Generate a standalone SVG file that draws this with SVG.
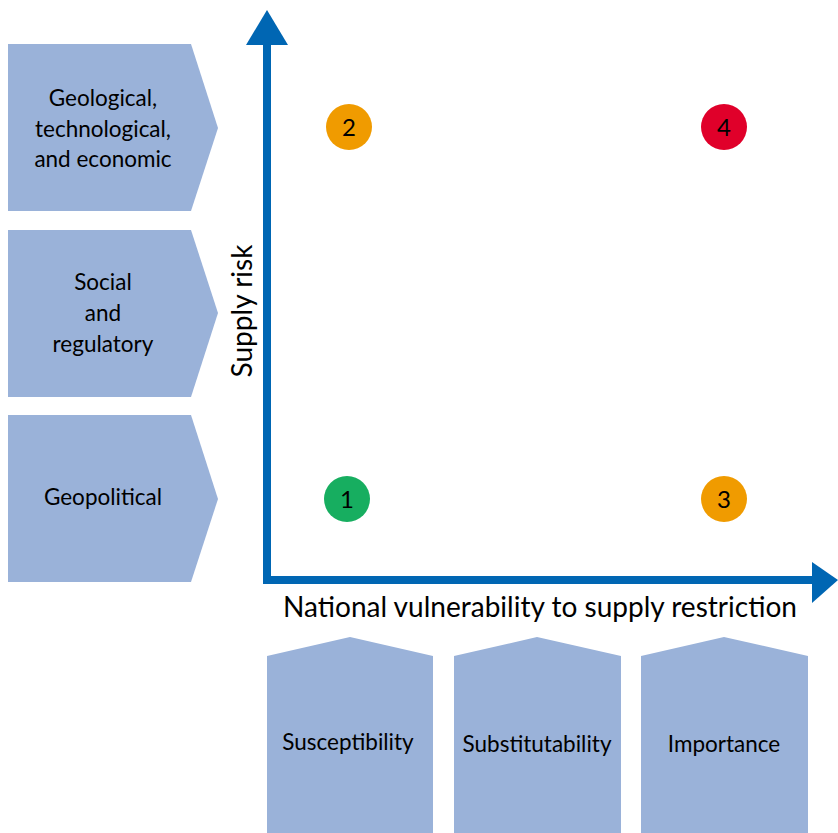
<svg xmlns="http://www.w3.org/2000/svg" width="838" height="833" viewBox="0 0 838 833">
<style>
.box{fill:#9AB2D9;}
.t{font-family:"Lato","Liberation Sans",sans-serif;font-size:22.5px;fill:#000;text-anchor:middle;}
.n{font-family:"Lato","Liberation Sans",sans-serif;font-size:24px;fill:#000;text-anchor:middle;}
.ax{font-family:"Lato","Liberation Sans",sans-serif;font-size:28px;fill:#000;text-anchor:middle;}
</style>
<rect width="838" height="833" fill="#fff"/>
<g id="box-geological">
<polygon class="box" points="8,44 191,44 218,128 191,211 8,211"/>
<text class="t" x="103" y="106">Geological,</text>
<text class="t" x="103" y="137">technological,</text>
<text class="t" x="103" y="167">and economic</text>
</g>
<g id="box-social">
<polygon class="box" points="8,230 191,230 218,313 191,397 8,397"/>
<text class="t" x="103" y="290">Social</text>
<text class="t" x="103" y="321">and</text>
<text class="t" x="103" y="352">regulatory</text>
</g>
<g id="box-geopolitical">
<polygon class="box" points="8,415 191,415 218,499 191,582 8,582"/>
<text class="t" x="103" y="505">Geopolitical</text>
</g>
<g id="box-susceptibility">
<polygon class="box" points="267,656 350,637 433,656 433,833 267,833"/>
<text class="t" x="348" y="750">Susceptibility</text>
</g>
<g id="box-substitutability">
<polygon class="box" points="454,656 537,637 621,656 621,833 454,833"/>
<text class="t" x="537" y="752">Substitutability</text>
</g>
<g id="box-importance">
<polygon class="box" points="641,656 724,637 808,656 808,833 641,833"/>
<text class="t" x="724" y="752">Importance</text>
</g>
<g id="connectors">
<polyline points="267,45 267,580 812,580" fill="none" stroke="#0066B3" stroke-width="8"/>
<polygon points="267,10 246,45 288,45" fill="#0066B3"/>
<polygon points="838,580 812,562 812,603" fill="#0066B3"/>
</g>
<text class="ax" x="540" y="617" textLength="514" lengthAdjust="spacingAndGlyphs">National vulnerability to supply restriction</text>
<text class="ax" x="0" y="0" transform="translate(252,311) rotate(-90)" textLength="133" lengthAdjust="spacingAndGlyphs">Supply risk</text>
<g id="c2"><circle cx="349" cy="127" r="23" fill="#F09B00"/><text class="n" x="349" y="136">2</text></g>
<g id="c4"><circle cx="724" cy="127" r="23" fill="#E0002A"/><text class="n" x="724" y="136">4</text></g>
<g id="c1"><circle cx="347" cy="499" r="23" fill="#17AE60"/><text class="n" x="347" y="508">1</text></g>
<g id="c3"><circle cx="724" cy="499" r="23" fill="#F09B00"/><text class="n" x="724" y="508">3</text></g>
</svg>
